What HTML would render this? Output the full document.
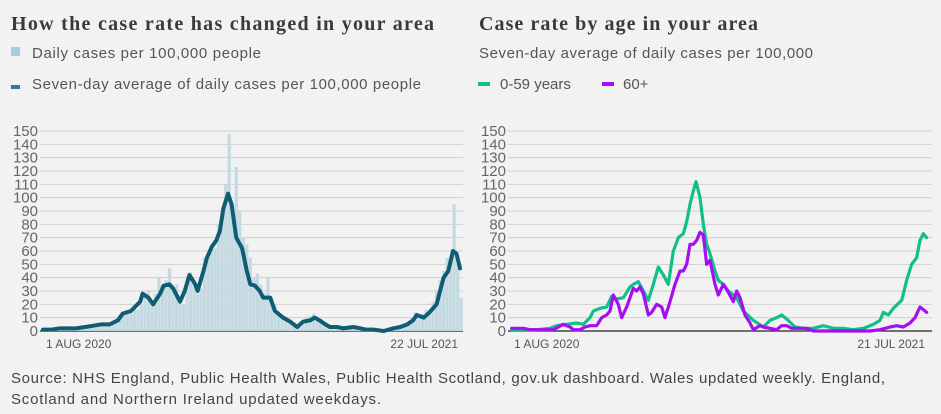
<!DOCTYPE html>
<html><head><meta charset="utf-8">
<style>
html,body{margin:0;padding:0;background:#f2f2f2;}
svg{display:block;font-family:"Liberation Sans",sans-serif;}
.t{font-family:"Liberation Serif",serif;font-weight:bold;font-size:20px;fill:#3a3a3a;}
.lg{font-size:15px;fill:#555;}
.tk{font-size:15px;fill:#666;}
.xt{font-size:12px;fill:#555;}
.src{font-size:15px;fill:#444;}
</style></head><body>
<svg id="c" width="941" height="414" viewBox="0 0 941 414">
<text class="t" x="11" y="30" textLength="423">How the case rate has changed in your area</text>
<rect x="11" y="47" width="9" height="9" fill="#a9ccd8"/>
<text class="lg" x="32" y="58" textLength="229">Daily cases per 100,000 people</text>
<rect x="11" y="85" width="9" height="4" fill="#2e7a98"/>
<text class="lg" x="32" y="89" textLength="389">Seven-day average of daily cases per 100,000 people</text>

<text class="t" x="479" y="30" textLength="279">Case rate by age in your area</text>
<text class="lg" x="479" y="58" textLength="334">Seven-day average of daily cases per 100,000</text>
<rect x="478" y="82" width="12" height="4" fill="#10bf8a"/>
<text class="lg" x="500" y="89">0-59 years</text>
<rect x="602" y="82" width="12" height="4" fill="#a40ff2"/>
<text class="lg" x="623" y="89">60+</text>

<g id="left"></g>
<g id="right"></g>

<text class="src" x="11" y="383" textLength="874">Source: NHS England, Public Health Wales, Public Health Scotland, gov.uk dashboard. Wales updated weekly. England,</text>
<text class="src" x="11" y="404" textLength="370">Scotland and Northern Ireland updated weekdays.</text>
</svg>
<script>
const yTicks=[0,10,20,30,40,50,60,70,80,90,100,110,120,130,140,150];
const xLabelsLeft=["1 AUG 2020","22 JUL 2021"];
const xLabelsRight=["1 AUG 2020","21 JUL 2021"];
const dailyStep=3;
const dailyCases=[1,1,1,2,1,2,2,2,3,2,2,3,2,3,4,3,5,6,4,5,5,6,
10,12,15,14,17,16,20,28,30,
20,28,40,35,38,47,30,35,25,20,
35,44,38,28,32,55,55,65,62,80,
90,110,148,95,123,90,70,65,55,40,
43,35,28,40,25,20,15,12,9,7,
6,4,4,8,10,11,13,10,9,7,
5,4,3,3,4,3,2,3,3,2,
2,2,2,1,1,1,1,2,2,2,
3,4,4,6,10,14,12,13,16,15,
22,30,38,45,55,52,95,50,25];
const avgDays=[0,7,14,21,28,36,43,50,57,64,68,75,83,85,90,94,100,103,108,111,117,121,125,130,132,137,140,144,148,151,154,158,161,165,170,174,177,181,185,188,194,198,205,211,217,222,228,232,236,241,245,251,256,265,271,276,282,291,299,305,311,316,319,325,330,336,342,346,350,353,356];
const avgValues=[1,1,2,2,2,3,4,5,5,8,13,15,22,28,25,20,28,34,35,32,22,30,42,35,30,45,55,63,68,75,92,103,95,70,62,45,35,34,30,25,25,15,10,7,3,7,8,10,8,5,3,3,2,3,2,1,1,0,2,3,5,8,12,10,14,20,40,45,60,58,47];
const youngZx=[125,200,240,260,290,320,340,360,370,390,410,425,440,460,480,490,505,520,535,550,565,580,595,610,625,640,650,660,670,678,690,700,710,720,735,745,760,775,800,820,850,880,900,920,935,950,975,1000,1030,1060,1090,1120,1150,1180,1210,1230,1240,1255,1270,1295,1310,1325,1340,1350,1360,1370];
const youngValues=[1,1,2,4,5,6,5,10,15,17,18,26,24,25,33,35,37,30,23,35,48,42,35,60,70,73,82,95,105,112,100,80,65,58,45,38,35,30,25,15,8,3,8,10,12,9,3,2,2,4,2,2,1,2,5,8,14,12,17,23,38,50,55,68,73,70];
const oldZx=[125,160,180,220,250,280,300,310,330,345,360,380,395,410,420,430,445,455,470,480,490,500,510,520,535,545,560,575,585,600,615,630,640,650,660,670,680,690,700,710,720,735,745,760,775,790,800,810,825,840,850,870,880,900,920,935,950,965,985,1010,1030,1100,1200,1230,1260,1280,1300,1320,1335,1350,1360,1370];
const oldValues=[2,2,1,1,1,5,3,1,1,3,4,4,10,12,15,27,20,10,18,25,32,30,33,28,12,14,20,18,10,22,35,45,45,50,65,65,68,74,72,50,53,35,27,35,29,22,30,25,12,6,1,4,3,2,1,4,4,2,2,2,0,0,0,1,3,4,3,6,10,18,16,14];

const NS="http://www.w3.org/2000/svg";
function mk(tag,attrs,parent){const e=document.createElementNS(NS,tag);for(const k in attrs)e.setAttribute(k,attrs[k]);parent.appendChild(e);return e;}
const y0=331,yTop=131,vMax=150;
const yS=v=>y0-(v/vMax)*(y0-yTop);

function axes(g,x0,x1,labels,lx0,lx1){
  yTicks.forEach(t=>{
    const l=mk('line',{x1:x0,x2:x1,y1:yS(t),y2:yS(t),stroke:t===0?'#222':'#cfcfcf','stroke-width':t===0?1.2:1},g);
    
    
    const tx=mk('text',{x:x0-2,y:yS(t)+5,'text-anchor':'end',class:'tk'},g);
    tx.textContent=t;
    
    
  });
  const a=mk('text',{x:lx0,y:348,class:'xt'},g);a.textContent=labels[0];
  
  
  const b=mk('text',{x:lx1,y:348,class:'xt','text-anchor':'end'},g);b.textContent=labels[1];
  
  
}
// left chart
const L=document.getElementById('left');
axes(L,40,463,xLabelsLeft,46,458);
const lx=d=>43+d*(460-43)/356;
dailyCases.forEach((v,i)=>{
  const r=mk('rect',{x:lx(i*dailyStep)-1.6,y:yS(v),width:3.2,height:y0-yS(v),fill:'#c3dae2'},L);
  
  
});
const pl=mk('polyline',{points:avgDays.map((d,i)=>lx(d)+','+yS(avgValues[i])).join(' '),fill:'none',stroke:'#0f5c73','stroke-width':4,'stroke-linejoin':'round','stroke-linecap':'round'},L);


// right chart
const R=document.getElementById('right');
axes(R,508,932,xLabelsRight,514,925);
const rx=z=>470+z/3;
const g1=mk('polyline',{points:youngZx.map((z,i)=>rx(z)+','+yS(youngValues[i])).join(' '),fill:'none',stroke:'#10bf8a','stroke-width':3.2,'stroke-linejoin':'round','stroke-linecap':'round'},R);


const g2=mk('polyline',{points:oldZx.map((z,i)=>rx(z)+','+yS(oldValues[i])).join(' '),fill:'none',stroke:'#a40ff2','stroke-width':3.2,'stroke-linejoin':'round','stroke-linecap':'round'},R);


</script>
</body></html>
